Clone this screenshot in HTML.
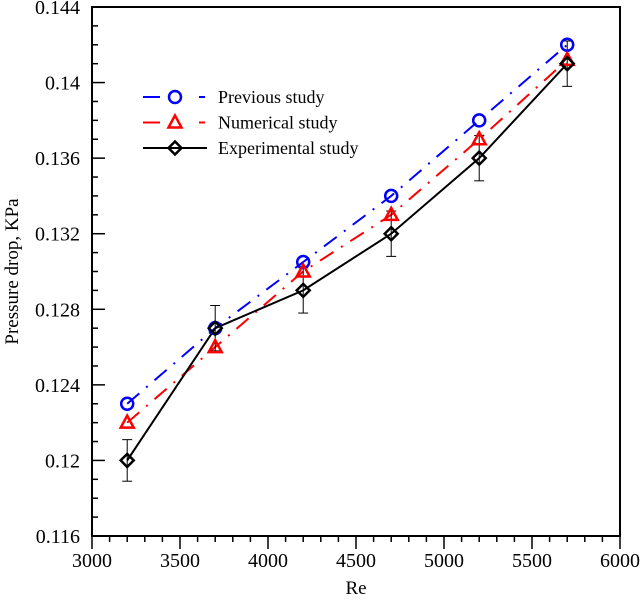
<!DOCTYPE html>
<html><head><meta charset="utf-8"><style>
html,body{margin:0;padding:0;background:#fff;}
svg{display:block;}
svg text{font-family:"Liberation Serif","Times New Roman","DejaVu Serif",serif;}
</style></head><body>
<svg id="chart" width="642" height="603" viewBox="0 0 642 603" xmlns="http://www.w3.org/2000/svg"></svg>
<script>
const categories = [3200, 3700, 4200, 4700, 5200, 5700];
const previousValues = [0.123, 0.127, 0.1305, 0.134, 0.138, 0.142];
const numericalValues = [0.122, 0.126, 0.130, 0.133, 0.137, 0.1412];
const experimentalValues = [0.120, 0.127, 0.129, 0.132, 0.136, 0.141];
const experimentalErrors = [0.0011, 0.0012, 0.0012, 0.0012, 0.0012, 0.0012];
const xTickLabels = ["3000","3500","4000","4500","5000","5500","6000"];
const yTickLabels = ["0.116","0.12","0.124","0.128","0.132","0.136","0.14","0.144"];

const L=92,R=620,T=7,B=536;
const xMin=3000,xMax=6000,yMin=0.116,yMax=0.144;
const X=v=>L+(v-xMin)/(xMax-xMin)*(R-L);
const Y=v=>B-(v-yMin)/(yMax-yMin)*(B-T);
const svg=document.getElementById('chart');
const NS='http://www.w3.org/2000/svg';
const FF='"Liberation Serif","Times New Roman",serif';
function mk(tag,attrs,parent){const e=document.createElementNS(NS,tag);for(const k in attrs)e.setAttribute(k,attrs[k]);if(tag==='text')e.setAttribute('font-family',FF);(parent||svg).appendChild(e);return e;}

const frame=mk('rect',{x:L,y:T,width:R-L,height:B-T,fill:'none',stroke:'#000','stroke-width':2});



for(let v=xMin;v<=xMax;v+=100){
  const major=(v%500===0);
  const t=mk('line',{x1:X(v),x2:X(v),y1:B,y2:B+(major?13:6),stroke:'#000','stroke-width':1.5});
  
  
}
xTickLabels.forEach(s=>{
  const t=mk('text',{x:X(+s),y:567,'text-anchor':'middle','font-size':20});
  t.textContent=s;
  
  
});
for(let i=0;i<=28;i++){
  const v=yMin+i*0.001;const major=(i%4===0);
  const t=mk('line',{x1:L,x2:L+(major?13:6),y1:Y(v),y2:Y(v),stroke:'#000','stroke-width':1.5});
  
  
}
yTickLabels.forEach(s=>{
  const t=mk('text',{x:L-12,y:Y(+s)+7,'text-anchor':'end','font-size':20});
  t.textContent=s;
  
  
});
const xt=mk('text',{x:X(4500),y:594,'text-anchor':'middle','font-size':19});
xt.textContent='Re';


const yt=mk('text',{x:0,y:0,'text-anchor':'middle','font-size':19,transform:'translate(18,'+((T+B)/2)+') rotate(-90)'});
yt.textContent='Pressure drop, KPa';



function pts(vals){return categories.map((c,i)=>X(c)+','+Y(vals[i])).join(' ');}
const lp=mk('polyline',{points:pts(previousValues),fill:'none',stroke:'#0000ff','stroke-width':2,'stroke-dasharray':'16 9 2 9'});


const ln=mk('polyline',{points:pts(numericalValues),fill:'none',stroke:'#ff0000','stroke-width':2,'stroke-dasharray':'16 9 2 9'});


const le=mk('polyline',{points:pts(experimentalValues),fill:'none',stroke:'#000','stroke-width':2});



categories.forEach((c,i)=>{
  const x=X(c),y1=Y(experimentalValues[i]+experimentalErrors[i]),y2=Y(experimentalValues[i]-experimentalErrors[i]);
  const g=mk('g',{stroke:'#000','stroke-width':1});
  
  
  mk('line',{x1:x,x2:x,y1:y1,y2:y2},g);
  mk('line',{x1:x-5,x2:x+5,y1:y1,y2:y1},g);
  mk('line',{x1:x-5,x2:x+5,y1:y2,y2:y2},g);
});

function circle(x,y,p){return mk('circle',{cx:x,cy:y,r:6,fill:'none',stroke:'#0000ff','stroke-width':2.5},p);}
function tri(x,y,p){return mk('polygon',{points:`${x},${y-7} ${x-6.5},${y+5} ${x+6.5},${y+5}`,fill:'none',stroke:'#ff0000','stroke-width':2.5},p);}
function dia(x,y,p){return mk('polygon',{points:`${x},${y-6.5} ${x+6.5},${y} ${x},${y+6.5} ${x-6.5},${y}`,fill:'none',stroke:'#000','stroke-width':2.5},p);}
categories.forEach((c,i)=>{
  const a=circle(X(c),Y(previousValues[i]));
  
  
  const b=tri(X(c),Y(numericalValues[i]));
  
  
  const d=dia(X(c),Y(experimentalValues[i]));
  
  
});

const legend=mk('g',{});


const entries=[['Previous study','#0000ff',circle,true],['Numerical study','#ff0000',tri,true],['Experimental study','#000',dia,false]];
entries.forEach((e,i)=>{
  const y=97+i*25.5;
  const g=mk('g',{},legend);
  
  
  if(e[3]){
    mk('line',{x1:143,x2:160,y1:y,y2:y,stroke:e[1],'stroke-width':2},g);
    mk('line',{x1:199,x2:205,y1:y,y2:y,stroke:e[1],'stroke-width':2},g);
  } else {
    mk('line',{x1:143,x2:207,y1:y,y2:y,stroke:e[1],'stroke-width':2},g);
  }
  e[2](175,y,g);
  const t=mk('text',{x:218,y:y+6,'font-size':18},g);
  t.textContent=e[0];
});
</script>
</body></html>
